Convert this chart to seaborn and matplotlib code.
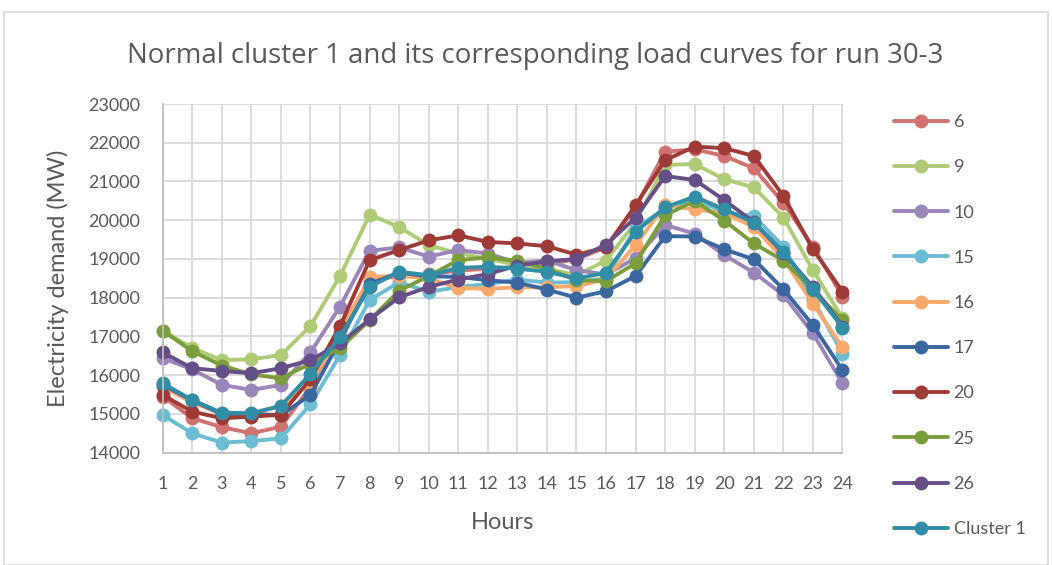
import matplotlib
matplotlib.use("Agg")
import matplotlib.pyplot as plt
import seaborn as sns
import pandas as pd
from matplotlib.lines import Line2D
from matplotlib.patches import Rectangle

hours = list(range(1, 25))
series_names = ["6", "9", "10", "15", "16", "17", "20", "25", "26", "Cluster 1"]

s6 = [15450, 14890, 14660, 14500, 14670, 15700, 17150, 18470, 18550, 18600, 18700, 18750,
      18800, 18850, 19000, 19300, 20350, 21770, 21830, 21660, 21340, 20450, 19320, 18030]
s9 = [17150, 16700, 16390, 16410, 16520, 17270, 18560, 20140, 19830, 19350, 19150, 19000,
      18850, 18750, 18580, 18960, 19950, 21430, 21450, 21060, 20850, 20070, 18710, 17470]
s10 = [16440, 16150, 15750, 15620, 15750, 16590, 17770, 19210, 19300, 19060, 19230, 19140,
       18900, 18960, 18710, 18600, 19020, 19880, 19650, 19100, 18650, 18070, 17080, 15790]
s15 = [14970, 14500, 14260, 14300, 14370, 15250, 16520, 17940, 18400, 18150, 18280, 18350,
       18470, 18390, 18400, 18500, 19800, 20300, 20550, 20200, 20110, 19320, 17950, 16560]
s16 = [15700, 15300, 15000, 15000, 15200, 15800, 17050, 18540, 18560, 18500, 18250, 18230,
       18270, 18270, 18300, 18480, 19360, 20390, 20280, 20180, 19830, 19000, 17850, 16720]
s17 = [15750, 15350, 15000, 15000, 14970, 15490, 16900, 18350, 18650, 18550, 18540, 18450,
       18390, 18210, 18000, 18170, 18560, 19590, 19580, 19250, 18990, 18220, 17290, 16130]
s20 = [15490, 15060, 14890, 14930, 14980, 15900, 17270, 18970, 19230, 19480, 19610, 19440,
       19400, 19330, 19110, 19300, 20390, 21550, 21900, 21860, 21660, 20630, 19250, 18160]
s25 = [17150, 16620, 16250, 16020, 15920, 16300, 16700, 17420, 18180, 18560, 18970, 19040,
       18950, 18750, 18450, 18430, 18890, 20130, 20500, 19990, 19400, 18960, 18200, 17420]
s26 = [16590, 16180, 16110, 16050, 16180, 16390, 16820, 17440, 18010, 18280, 18470, 18610,
       18830, 18940, 19000, 19370, 20070, 21140, 21040, 20520, 19950, 19150, 18280, 17250]
cluster1 = [15790, 15360, 15030, 15020, 15210, 16030, 16990, 18280, 18670, 18580, 18770, 18800,
            18750, 18670, 18500, 18640, 19700, 20330, 20610, 20280, 19940, 19190, 18220, 17230]

colors = ["#D07370", "#AECB76", "#9B86BA", "#6CBCD2", "#F9A96A",
          "#3A67A0", "#9E3B37", "#7B9E3D", "#664E87", "#328EA6"]

y_ticks = list(range(14000, 23001, 1000))

all_values = [s6, s9, s10, s15, s16, s17, s20, s25, s26, cluster1]
rows = []
for name, vals in zip(series_names, all_values):
    for h, v in zip(hours, vals):
        rows.append({"Hour": h, "Demand": v, "Series": name})
df = pd.DataFrame(rows)

sns.set_theme(style="white")
FONT = ["Lato", "DejaVu Sans"]
plt.rcParams["font.family"] = FONT
TXT = "#595959"

fig = plt.figure(figsize=(10.52, 5.65), dpi=100)
ax = fig.add_axes([162.7 / 1052, 1 - 452.7 / 565, (842.5 - 162.7) / 1052, (452.7 - 104) / 565])

palette = dict(zip(series_names, colors))
sns.lineplot(data=df, x="Hour", y="Demand", hue="Series", hue_order=series_names,
             palette=palette, marker="o", markersize=10, markeredgewidth=0,
             linewidth=2.8, ax=ax, legend=False, clip_on=False)

ax.set_xlim(1, 24)
ax.set_ylim(14000, 23000)
ax.set_xticks(hours)
ax.set_xticklabels([str(h) for h in hours])
ax.set_yticks(y_ticks)
ax.set_yticklabels([str(t) for t in y_ticks])
ax.grid(True, color="#D9D9D9", linewidth=1.3)
ax.set_axisbelow(True)
for side in ["top", "right"]:
    ax.spines[side].set_visible(False)
for side in ["left", "bottom"]:
    ax.spines[side].set_color("#BFBFBF")
    ax.spines[side].set_linewidth(1.3)
ax.tick_params(axis="both", length=0, labelsize=13, colors=TXT)
ax.tick_params(axis="y", pad=16)
ax.tick_params(axis="x", pad=17)
ax.set_xlabel("Hours", fontsize=17, color=TXT, labelpad=14)
ax.set_ylabel("Electricity demand (MW)", fontsize=17, color=TXT, labelpad=14)

fig.text(535 / 1052, 1 - 56 / 565, "Normal cluster 1 and its corresponding load curves for run 30-3",
         ha="center", va="center", fontsize=19.9, color=TXT, family=["Open Sans", "DejaVu Sans"])

handles = [Line2D([0], [0], color=c, marker="o", markersize=10, markeredgewidth=0, linewidth=2.8)
           for c in colors]
leg = fig.legend(handles, series_names, loc="upper left",
                 bbox_to_anchor=(894 / 1052, 1 - 114 / 565), frameon=False,
                 fontsize=13, labelspacing=1.62, handlelength=3.0, handletextpad=0.3,
                 borderaxespad=0, borderpad=0)
for t in leg.get_texts():
    t.set_color(TXT)

fig.patches.append(Rectangle((4 / 1052, 0), 1044 / 1052, 1 - 12 / 565, transform=fig.transFigure,
                             fill=False, edgecolor="#D9D9D9", linewidth=1.2))

fig.savefig("out.png", dpi=100, facecolor="white")
